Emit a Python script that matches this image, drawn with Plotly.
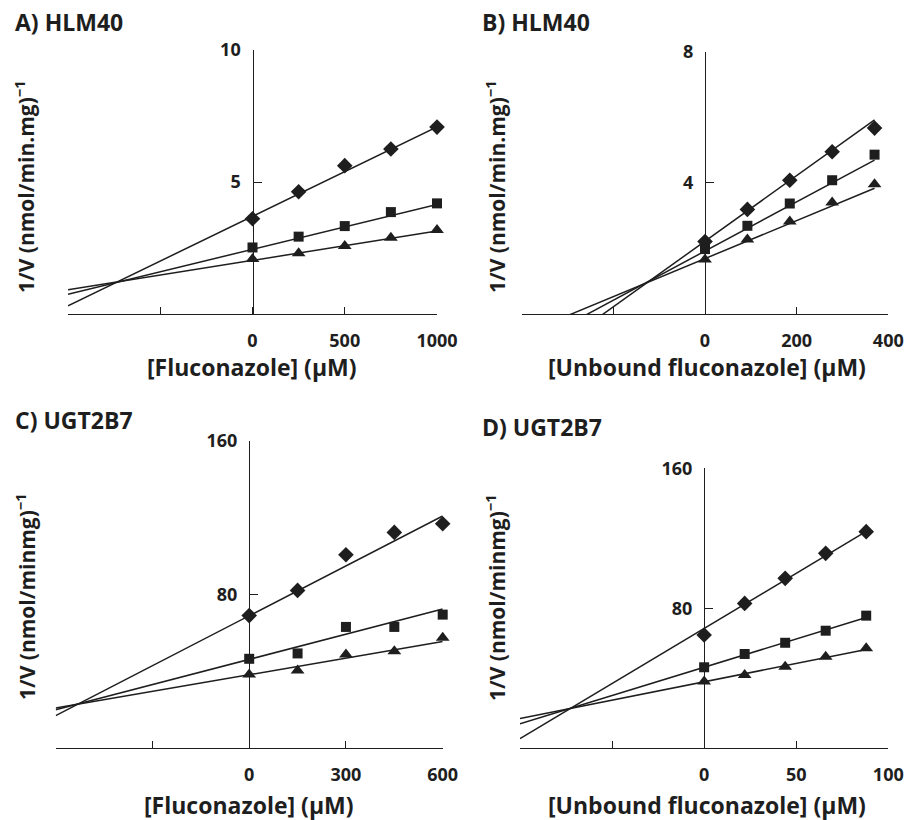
import plotly.graph_objects as go
import numpy as np

# ---------------- data ----------------
# Panel A: HLM40, total fluconazole
a_x = [0, 250, 500, 750, 1000]
a_diamond = [3.61, 4.63, 5.62, 6.25, 7.08]
a_square = [2.52, 2.93, 3.33, 3.86, 4.19]
a_triangle = [2.08, 2.30, 2.58, 2.89, 3.18]
a_slope = [0.00339, 0.00170, 0.001115]
a_intercept = [3.70, 2.45, 2.03]

# Panel B: HLM40, unbound fluconazole
b_x = [0, 92.5, 185, 277.5, 370]
b_diamond = [2.21, 3.19, 4.08, 4.95, 5.67]
b_square = [1.98, 2.69, 3.37, 4.08, 4.86]
b_triangle = [1.66, 2.27, 2.82, 3.40, 3.96]
b_slope = [0.0100, 0.0075, 0.0058]
b_intercept = [2.22, 1.92, 1.69]

# Panel C: UGT2B7, total fluconazole
c_x = [0, 150, 300, 450, 600]
c_diamond = [69.1, 82.2, 100.8, 112.4, 116.9]
c_square = [46.6, 49.4, 63.2, 63.2, 69.6]
c_triangle = [38.4, 40.5, 48.8, 50.5, 57.5]
c_slope = [0.0866, 0.0437, 0.0289]
c_intercept = [69.0, 46.3, 38.3]

# Panel D: UGT2B7, unbound fluconazole
d_x = [0, 22, 44, 66, 88]
d_diamond = [64.7, 82.8, 97.1, 111.4, 123.8]
d_square = [46.3, 53.9, 60.3, 67.2, 75.8]
d_triangle = [38.1, 41.9, 46.6, 52.3, 57.1]
d_slope = [0.630, 0.3236, 0.2097]
d_intercept = [68.5, 46.3, 38.0]

panel_titles = ["A) HLM40", "B) HLM40", "C) UGT2B7", "D) UGT2B7"]
x_titles = ["[Fluconazole] (μM)", "[Unbound fluconazole] (μM)",
            "[Fluconazole] (μM)", "[Unbound fluconazole] (μM)"]
y_titles = ["1/V (nmol/min.mg)<sup>−1</sup>", "1/V (nmol/min.mg)<sup>−1</sup>",
            "1/V (nmol/minmg)<sup>−1</sup>", "1/V (nmol/minmg)<sup>−1</sup>"]

x_range = [[-1000, 1000], [-400, 400], [-600, 600], [-100, 100]]
x_tickvals = [[0, 500, 1000], [0, 200, 400], [0, 300, 600], [0, 50, 100]]
x_ticktext = [["0", "500", "1000"], ["0", "200", "400"],
              ["0", "300", "600"], ["0", "50", "100"]]
x_unlabeled_ticks = [[-1000, -500], [-400, -200], [-600, -300], [-100, -50]]
y_tickvals = [[5, 10], [4, 8], [80, 160], [80, 160]]
y_ticktext = [["5", "10"], ["4", "8"], ["80", "160"], ["80", "160"]]
y_max = [10, 8, 160, 160]

# ---------------- layout geometry (pixels) ----------------
W, H = 909, 820
FONT = "'Open Sans', Lato, sans-serif"
INK = "#1e1e1e"
px_x = [(68, 437), (521.7, 888.3), (55.7, 442.7), (520, 888.3)]
px_y = [(314, 50), (314, 51.7), (748.3, 441), (748.3, 468.3)]

panels = [
    (a_x, a_diamond, a_square, a_triangle, a_slope, a_intercept),
    (b_x, b_diamond, b_square, b_triangle, b_slope, b_intercept),
    (c_x, c_diamond, c_square, c_triangle, c_slope, c_intercept),
    (d_x, d_diamond, d_square, d_triangle, d_slope, d_intercept),
]

fig = go.Figure()
symbols = ["diamond", "square", "triangle-up"]
sizes = [12, 10, 12]

for i, (xs, yd, ys, yt, slopes, icpts) in enumerate(panels):
    xa = "x" if i == 0 else f"x{i+1}"
    ya = "y" if i == 0 else f"y{i+1}"
    xmin = x_range[i][0]
    x_end = max(xs)
    for s, b in zip(slopes, icpts):
        lx = np.array([xmin, x_end], dtype=float)
        fig.add_trace(go.Scatter(x=lx, y=s * lx + b, mode="lines",
                                 line=dict(color=INK, width=1.5),
                                 xaxis=xa, yaxis=ya, showlegend=False,
                                 hoverinfo="skip"))
    for vals, sym, sz in zip([yd, ys, yt], symbols, sizes):
        fig.add_trace(go.Scatter(x=xs, y=vals, mode="markers",
                                 marker=dict(symbol=sym, size=sz, color=INK),
                                 xaxis=xa, yaxis=ya, showlegend=False,
                                 cliponaxis=False))


def bold(t):
    return f"<b>{t}</b>" if t else ""


layout = dict(width=W, height=H, margin=dict(l=0, r=0, t=0, b=0, pad=0),
              autosize=False, template="none",
              paper_bgcolor="white", plot_bgcolor="white", showlegend=False,
              font=dict(family=FONT, color=INK))

annotations = []
for i in range(4):
    xk = "xaxis" if i == 0 else f"xaxis{i+1}"
    yk = "yaxis" if i == 0 else f"yaxis{i+1}"
    ya = "y" if i == 0 else f"y{i+1}"
    x0p, x1p = px_x[i]
    yb, yt_ = px_y[i]
    xdom = [x0p / W, x1p / W]
    ydom = [1 - yb / H, 1 - yt_ / H]
    xmin, xmax = x_range[i]
    zero_pos = xdom[0] + (0 - xmin) / (xmax - xmin) * (xdom[1] - xdom[0])
    layout[xk] = dict(domain=xdom, range=[xmin, xmax], anchor=ya,
                      automargin=False,
                      showline=True, linecolor=INK, linewidth=1.4,
                      showgrid=False, zeroline=False,
                      ticks="inside", ticklen=7, tickwidth=1.3, tickcolor=INK,
                      tickvals=x_tickvals[i],
                      ticktext=[bold(t) for t in x_ticktext[i]],
                      ticklabelstandoff=10,
                      minor=dict(tickvals=x_unlabeled_ticks[i], ticks="inside",
                                 ticklen=7, tickwidth=1.3, tickcolor=INK,
                                 showgrid=False),
                      tickfont=dict(family=FONT, size=18, color=INK))
    layout[yk] = dict(domain=ydom, range=[0, y_max[i]], anchor="free",
                      position=zero_pos, automargin=False,
                      showline=True, linecolor=INK, linewidth=1.4,
                      showgrid=False, zeroline=False,
                      ticks="inside", ticklen=8, tickwidth=1.3, tickcolor=INK,
                      tickvals=y_tickvals[i],
                      ticktext=[bold(t) for t in y_ticktext[i]],
                      ticklabelstandoff=8,
                      tickfont=dict(family=FONT, size=18, color=INK))

panel_pos = [(13, 22), (480, 22), (13, 420), (480, 427)]
xtitle_pos = [(252, 367), (707, 367), (249, 805), (707, 805)]
ytitle_pos = [(25, 187), (496, 187), (25, 597), (495, 598)]
for i in range(4):
    px, py = panel_pos[i]
    annotations.append(dict(text=bold(panel_titles[i]), x=px / W, y=1 - py / H,
                            xref="paper", yref="paper", xanchor="left", yanchor="middle",
                            showarrow=False,
                            font=dict(family=FONT, size=23, color=INK)))
    px, py = xtitle_pos[i]
    annotations.append(dict(text=bold(x_titles[i]), x=px / W, y=1 - py / H,
                            xref="paper", yref="paper", xanchor="center", yanchor="middle",
                            showarrow=False,
                            font=dict(family=FONT, size=23, color=INK)))
    px, py = ytitle_pos[i]
    annotations.append(dict(text=bold(y_titles[i]), x=px / W, y=1 - py / H,
                            xref="paper", yref="paper", xanchor="center", yanchor="middle",
                            showarrow=False, textangle=-90,
                            font=dict(family=FONT, size=21, color=INK)))

layout["annotations"] = annotations
fig.update_layout(**layout)
fig.write_html("out.html", config={"displayModeBar": False},
               post_script="document.body.style.margin='0px';document.body.style.overflow='hidden';")
